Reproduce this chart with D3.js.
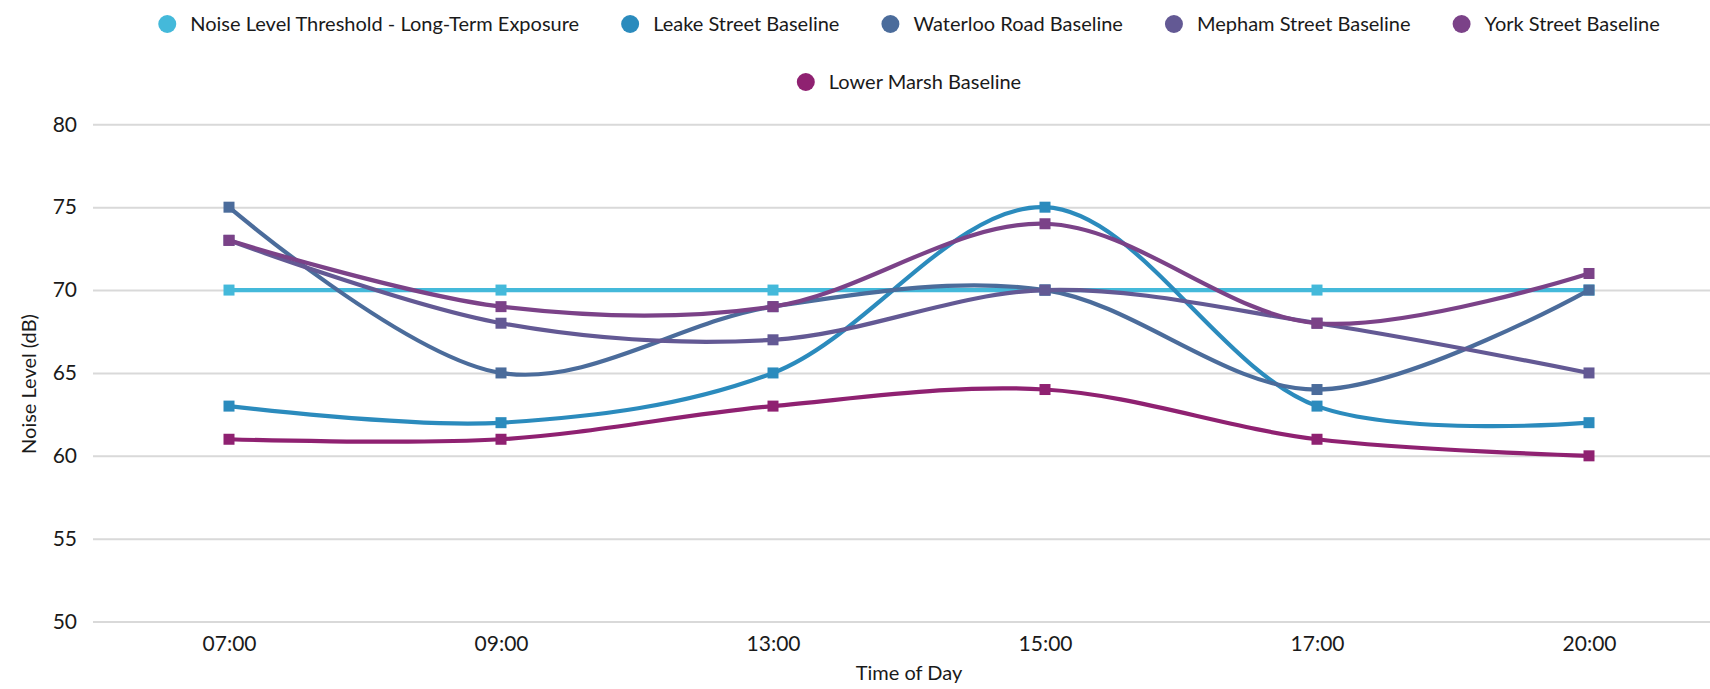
<!DOCTYPE html>
<html>
<head>
<meta charset="utf-8">
<script src="https://cdn.jsdelivr.net/npm/d3@7/dist/d3.min.js"></script>
<style>
  body { margin: 0; background: #fff; }
  svg text { font-family: Lato, "Open Sans", sans-serif; fill: #1a1a1a; }
</style>
</head>
<body>
<div class="canvas"></div>
<script>
// data
const times = ['07:00', '09:00', '13:00', '15:00', '17:00', '20:00'];
const seriesNames = [
  'Noise Level Threshold - Long-Term Exposure',
  'Leake Street Baseline',
  'Waterloo Road Baseline',
  'Mepham Street Baseline',
  'York Street Baseline',
  'Lower Marsh Baseline'
];
const threshold = [70, 70, 70, 70, 70, 70];
const leakeStreet = [63, 62, 65, 75, 63, 62];
const waterlooRoad = [75, 65, 69, 70, 64, 70];
const mephamStreet = [73, 68, 67, 70, 68, 65];
const yorkStreet = [73, 69, 69, 74, 68, 71];
const lowerMarsh = [61, 61, 63, 64, 61, 60];
const yTicks = [50, 55, 60, 65, 70, 75, 80];

const colors = ['#44b9da', '#2b8bbd', '#4b6c9b', '#635994', '#7b4288', '#8f2171'];

const series = [threshold, leakeStreet, waterlooRoad, mephamStreet, yorkStreet, lowerMarsh]
  .map((vals, i) => ({name: seriesNames[i], color: colors[i],
                      values: vals.map((v, j) => ({t: times[j], v: v}))}));

const dims = {width: 1710, height: 689};
const plot = {left: 93, right: 1725, top: 124.3, bottom: 621.6};

const svg = d3.select('.canvas').append('svg')
  .attr('width', dims.width).attr('height', dims.height);

const x = d3.scalePoint().domain(times).range([plot.left, plot.right]).padding(0.5);
const y = d3.scaleLinear().domain([50, 80]).range([plot.bottom, plot.top]);

// grid lines + y labels
const yAxis = svg.append('g')
  .attr('transform', `translate(${plot.left},0)`)
  .call(d3.axisLeft(y).tickValues(yTicks).tickSize(-(plot.right - plot.left)).tickPadding(16));
yAxis.select('.domain').remove();
yAxis.selectAll('.tick line').attr('stroke', '#d9d9d9').attr('stroke-width', 2);
yAxis.selectAll('.tick text').attr('font-size', 21).attr('fill', '#1a1a1a')
  .attr('font-family', 'Lato, sans-serif');

// x labels
const xAxis = svg.append('g')
  .attr('transform', `translate(0,${plot.bottom})`)
  .call(d3.axisBottom(x).tickSize(0).tickPadding(14));
xAxis.select('.domain').remove();
xAxis.selectAll('.tick text').attr('font-size', 21).attr('fill', '#1a1a1a')
  .attr('font-family', 'Lato, sans-serif');

// axis titles
svg.append('text')
  .attr('x', (plot.left + plot.right) / 2).attr('y', 680)
  .attr('text-anchor', 'middle').attr('font-size', 20)
  .text('Time of Day');

svg.append('text')
  .attr('transform', 'translate(36,384) rotate(-90)')
  .attr('text-anchor', 'middle').attr('font-size', 20)
  .text('Noise Level (dB)');

// lines
const line = d3.line()
  .x(d => x(d.t))
  .y(d => y(d.v))
  .curve(d3.curveCatmullRom);

const groups = svg.append('g').selectAll('g.series')
  .data(series).enter()
  .append('g').attr('class', 'series');

groups.append('path')
  .attr('d', d => line(d.values))
  .attr('fill', 'none')
  .attr('stroke', d => d.color)
  .attr('stroke-width', 4.2)
  .attr('stroke-linejoin', 'round');

const mk = 11;
groups.selectAll('rect')
  .data(d => d.values.map(p => ({...p, color: d.color})))
  .enter().append('rect')
    .attr('x', d => x(d.t) - mk / 2)
    .attr('y', d => y(d.v) - mk / 2)
    .attr('width', mk).attr('height', mk)
    .attr('fill', d => d.color);

// legend, wrapped in rows and centred on the plot
const legendFont = 20;
const rowY = [24, 82];
const maxRowWidth = 1540;
const centre = (plot.left + plot.right) / 2;

const legend = svg.append('g');
const items = legend.selectAll('g.item')
  .data(series).enter()
  .append('g').attr('class', 'item');
items.append('circle').attr('r', 9).attr('fill', d => d.color);
items.append('text')
  .attr('x', 23).attr('dy', '0.35em')
  .attr('font-size', legendFont)
  .text(d => d.name);

const widths = [];
items.each(function() {
  widths.push(9 + 23 + d3.select(this).select('text').node().getComputedTextLength());
});
const gap = 42;
let rows = [[]], rowW = [0];
widths.forEach((w, i) => {
  let r = rows.length - 1;
  const add = rows[r].length ? gap + w : w;
  if (rowW[r] + add > maxRowWidth && rows[r].length) {
    rows.push([i]); rowW.push(w);
  } else {
    rows[r].push(i); rowW[r] += add;
  }
});
rows.forEach((row, r) => {
  let cx = centre - rowW[r] / 2;
  row.forEach(i => {
    d3.select(items.nodes()[i]).attr('transform', `translate(${cx + 9},${rowY[r]})`);
    cx += widths[i] + gap;
  });
});
</script>
</body>
</html>
